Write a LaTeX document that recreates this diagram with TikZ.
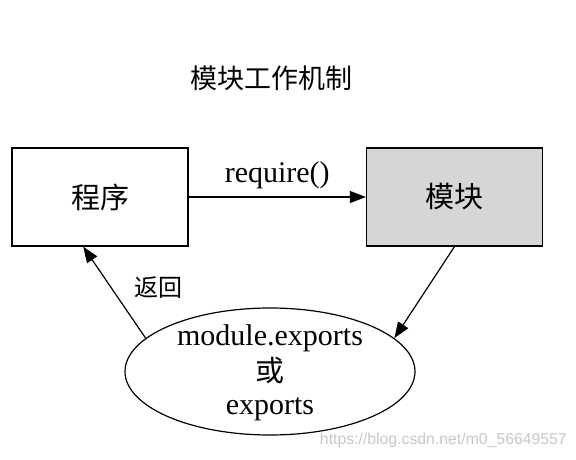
\documentclass[tikz,border=0pt]{standalone}
\usepackage{fontspec}
\setmainfont{Liberation Serif}
\newfontfamily\cjk{Noto Sans CJK SC}
\newfontfamily\marca{Liberation Sans}
\usetikzlibrary{arrows.meta,shapes.geometric,calc}
\begin{document}
\begin{tikzpicture}[x=1pt,y=-1pt,
  caja/.style={rectangle,draw,line width=1.2pt,minimum width=176pt,minimum height=98pt,font=\cjk\fontsize{29}{34}\selectfont},
  flecha/.style={-{Triangle[length=16pt,width=12pt]},line width=1.2pt},
  letra/.style={font=\fontsize{30}{34}\selectfont,inner sep=0pt,anchor=base}]
\useasboundingbox (0,0) rectangle (576,459);
% titulo
\node (titulo) at (271,78) {\cjk\fontsize{27}{32}\selectfont 模块工作机制};
% cajas
\node[caja] (prog) at (100,197) {程序};
\node[caja,fill=black!16] (mod) at (454.5,197) {模块};
\node[ellipse,draw,line width=1.2pt,minimum width=290pt,minimum height=127pt,inner sep=0pt] (salida) at (270,371.5) {};
\node[letra] (linea1) at (270,345) {module.exports};
\node[letra] (linea2) at (270,381) {\cjk\fontsize{29}{34}\selectfont 或};
\node[letra] (linea3) at (270,414) {exports};
% flechas
\draw[flecha] (prog.east) -- node[midway,above=4pt,font=\fontsize{30}{34}\selectfont]{require()} (mod.west);
\draw[flecha] (mod.south) -- (salida.15);
\draw[flecha] (salida.165) -- ($(prog.south west)!0.405!(prog.south east)$);
\node[font=\cjk\fontsize{24}{28}\selectfont] (volver) at (158,288) {返回};
% marca de agua
\node[anchor=east,text=black!22,font=\marca\fontsize{15.8}{18}\selectfont,inner sep=0pt] (web) at (567,440) {https://blog.csdn.net/m0\_56649557};
\end{tikzpicture}
\end{document}
